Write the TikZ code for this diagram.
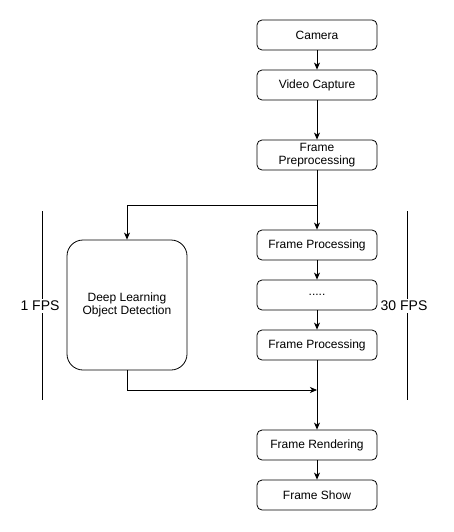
\documentclass[tikz,border=0pt]{standalone}
\usepackage{fontspec}
\setmainfont{Liberation Sans}
\usetikzlibrary{arrows.meta}

\tikzset{
  stepbox/.style={draw,line width=0.8pt,rounded corners=5pt,minimum width=120pt,
    minimum height=30pt,inner sep=0pt,align=center,font=\fontsize{12}{13.5}\selectfont},
  bigbox/.style={stepbox,minimum height=130pt,rounded corners=16pt},
  flow/.style={line width=0.8pt,-{Stealth[length=7pt,width=6pt,inset=2pt]}},
  rate/.style={fill=white,inner xsep=0.5pt,inner ysep=2pt,font=\fontsize{14}{16}\selectfont}
}

\begin{document}
\begin{tikzpicture}[x=1pt,y=-1pt]
  \useasboundingbox (0,0) rectangle (453,532);
  % main chain
  \node[stepbox] (camera) at (317,35) {Camera};
  \node[stepbox] (capture) at (317,85) {Video Capture};
  \node[stepbox] (prep) at (317,155) {Frame\\Preprocessing};
  \node[stepbox] (proc1) at (317,245) {Frame Processing};
  \node[stepbox] (dots) at (317,295) {.....};
  \node[stepbox] (proc2) at (317,345) {Frame Processing};
  \node[stepbox] (render) at (317,445) {Frame Rendering};
  \node[stepbox] (show) at (317,495) {Frame Show};
  \node[bigbox] (detect) at (127,305) {Deep Learning\\Object Detection};
  \coordinate (split) at (317,205);
  \coordinate (merge) at (317,390);
  % rate markers
  \draw[line width=0.8pt] (42,211) -- (42,400);
  \draw[line width=0.8pt] (407,211) -- (407,400);
  \node[rate] (slow) at (40,306) {1 FPS};
  \node[rate] (fast) at (404,306) {30 FPS};
  % connectors
  \draw[flow] (camera) -- (capture);
  \draw[flow] (capture) -- (prep);
  \draw[line width=0.8pt] (prep) -- (split);
  \draw[flow] (split) -- (proc1);
  \draw[flow] (split) -| (detect);
  \draw[flow] (proc1) -- (dots);
  \draw[flow] (dots) -- (proc2);
  \draw[line width=0.8pt] (proc2) -- (merge);
  \draw[flow] (merge) -- (render);
  \draw[flow] (detect.south) |- (merge);
  \draw[flow] (render) -- (show);
\end{tikzpicture}
\end{document}
